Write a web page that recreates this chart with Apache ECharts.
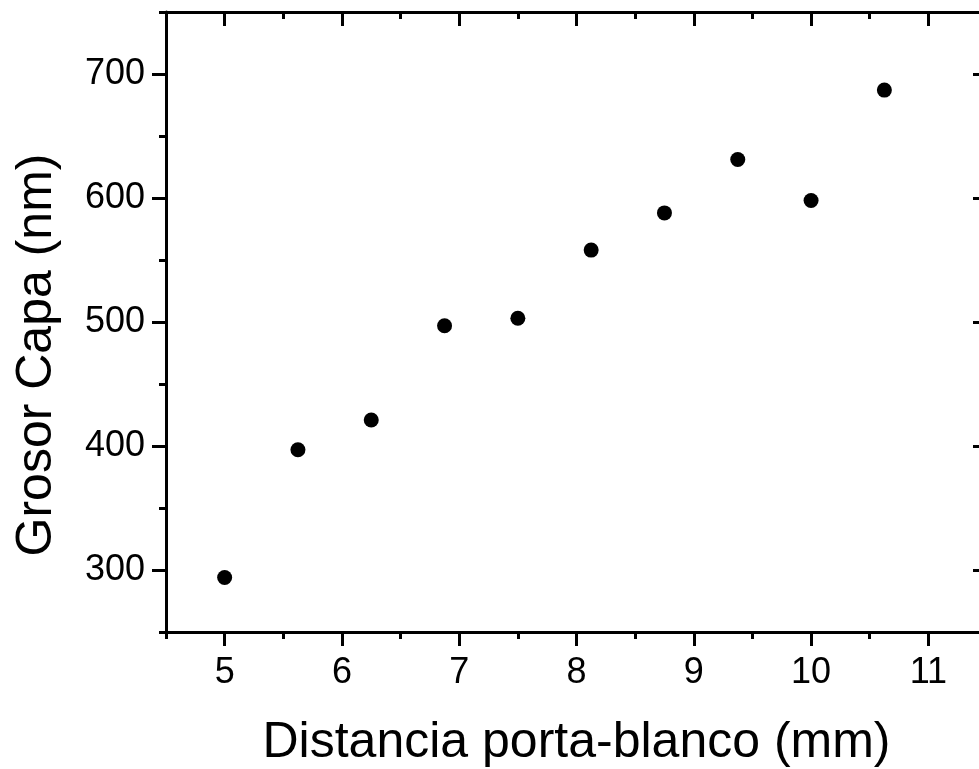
<!DOCTYPE html>
<html>
<head>
<meta charset="utf-8">
<script src="https://cdn.jsdelivr.net/npm/echarts@6/dist/echarts.min.js"></script>
<style>html,body{margin:0;padding:0;background:#fff;}#c{width:979px;height:769px;}</style>
</head>
<body>
<div id="c"></div>
<script>
const xValues = [5, 5.625, 6.25, 6.875, 7.5, 8.125, 8.75, 9.375, 10, 10.625];
const yValues = [294, 397, 421, 497, 503, 558, 588, 631, 598, 687];
const xTicks = [5, 6, 7, 8, 9, 10, 11];
const yTicks = [300, 400, 500, 600, 700];
const xName = 'Distancia porta-blanco (mm)';
const yName = 'Grosor Capa (nm)';

const FONT = '"Liberation Sans", Arial, sans-serif';
const LW = 3;
const chart = echarts.init(document.getElementById('c'));
const points = xValues.map((x, i) => [x, yValues[i]]);

function xAx(opts) {
  return Object.assign({
    type: 'value', min: 4.5, max: 11.5, gridIndex: 0,
    splitLine: { show: false },
    axisLine: { show: true, onZero: false, lineStyle: { color: '#000', width: LW } },
    axisLabel: { show: false },
    axisTick: { show: false }
  }, opts);
}
function yAx(opts) {
  return Object.assign({
    type: 'value', min: 250, max: 750, gridIndex: 0,
    splitLine: { show: false },
    axisLine: { show: true, onZero: false, lineStyle: { color: '#000', width: LW } },
    axisLabel: { show: false },
    axisTick: { show: false }
  }, opts);
}

chart.setOption({
  animation: false,
  backgroundColor: '#fff',
  grid: { left: 166, top: 12, width: 821, height: 620, outerBoundsMode: 'none', containLabel: false },
  xAxis: [
    xAx({
      position: 'bottom', name: xName, nameLocation: 'middle', nameGap: 86,
      nameTextStyle: { fontFamily: FONT, fontSize: 50, color: '#000' },
      axisTick: { show: true, customValues: xTicks, length: 14, lineStyle: { width: LW, color: '#000' } },
      axisLabel: { show: true, customValues: xTicks, margin: 23, fontFamily: FONT, fontSize: 36, color: '#000' }
    }),
    xAx({ position: 'bottom', interval: 0.5, axisLine: { show: false },
      axisTick: { show: true, length: 7, lineStyle: { width: LW, color: '#000' } } }),
    xAx({ position: 'top',
      axisTick: { show: true, inside: true, customValues: xTicks, length: 14, lineStyle: { width: LW, color: '#000' } } }),
    xAx({ position: 'top', interval: 0.5, axisLine: { show: false },
      axisTick: { show: true, inside: true, length: 7, lineStyle: { width: LW, color: '#000' } } })
  ],
  yAxis: [
    yAx({
      position: 'left', name: yName, nameLocation: 'middle', nameGap: 104, nameRotate: 90,
      nameTextStyle: { fontFamily: FONT, fontSize: 50, color: '#000', padding: [0, 66, 0, 0] },
      axisTick: { show: true, customValues: yTicks, length: 14, lineStyle: { width: LW, color: '#000' } },
      axisLabel: { show: true, customValues: yTicks, margin: 21, fontFamily: FONT, fontSize: 36, color: '#000' }
    }),
    yAx({ position: 'left', interval: 50, axisLine: { show: false },
      axisTick: { show: true, length: 7, lineStyle: { width: LW, color: '#000' } } }),
    yAx({ position: 'right',
      axisTick: { show: true, inside: true, customValues: yTicks, length: 14, lineStyle: { width: LW, color: '#000' } } }),
    yAx({ position: 'right', interval: 50, axisLine: { show: false },
      axisTick: { show: true, inside: true, length: 7, lineStyle: { width: LW, color: '#000' } } })
  ],
  series: [{
    type: 'scatter', xAxisIndex: 0, yAxisIndex: 0,
    data: points, symbol: 'circle', symbolSize: 15,
    itemStyle: { color: '#000', opacity: 1 }
  }]
});
</script>
</body>
</html>
